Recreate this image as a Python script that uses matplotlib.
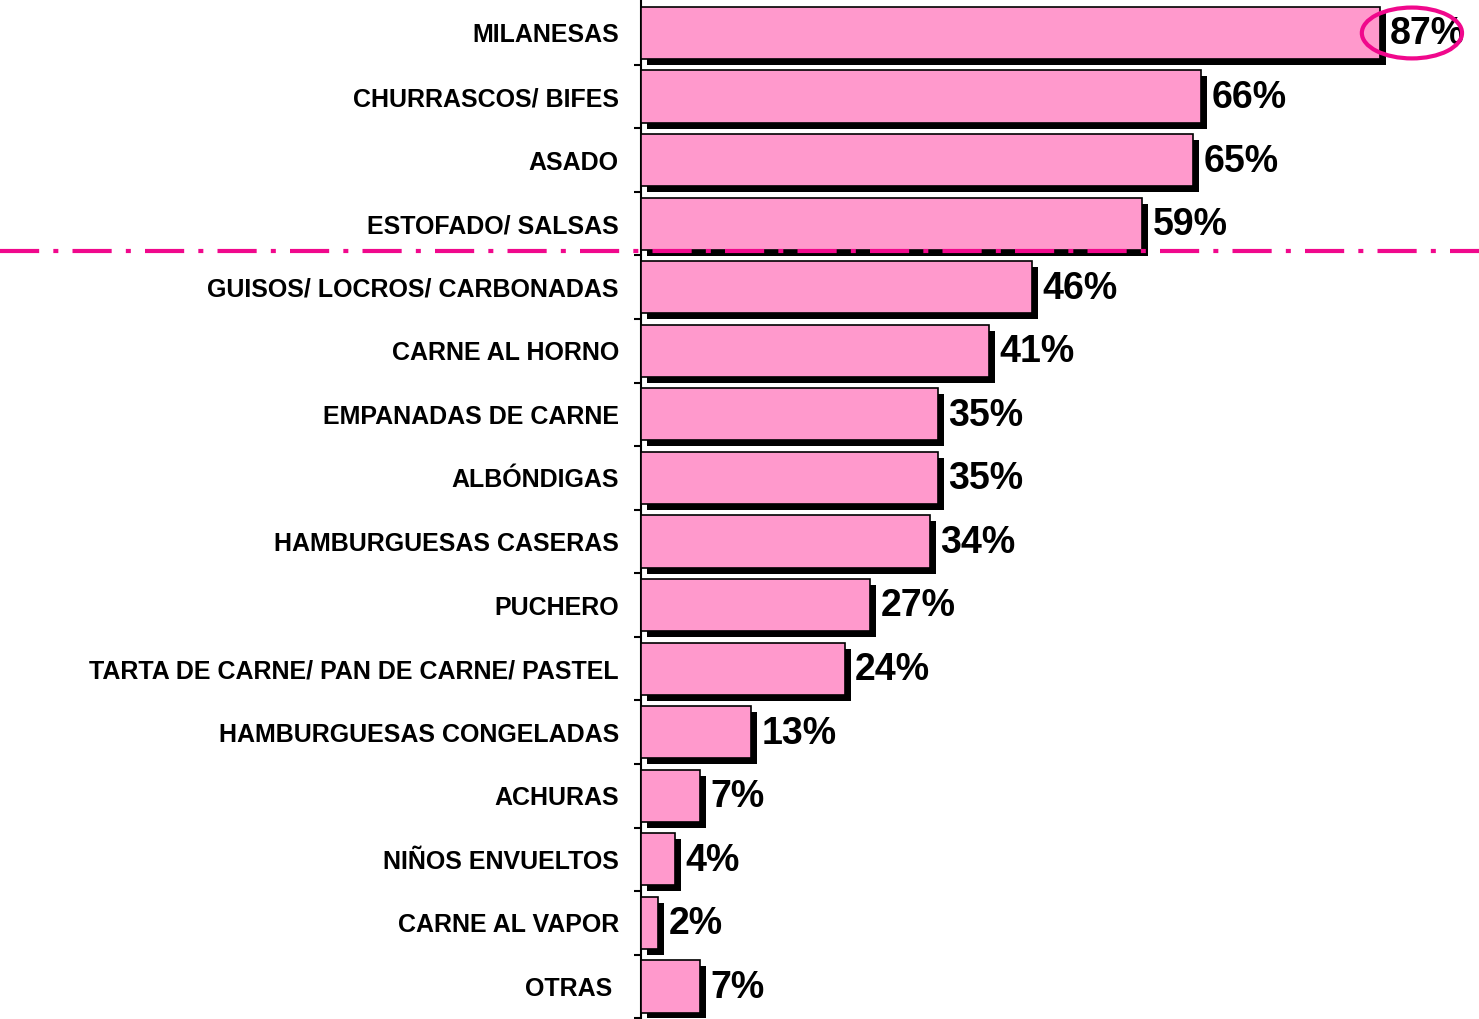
import matplotlib
matplotlib.use("Agg")
import matplotlib.pyplot as plt
import matplotlib.patheffects as pe
from matplotlib.patches import Ellipse
from matplotlib.lines import Line2D

categories = ["MILANESAS", "CHURRASCOS/ BIFES", "ASADO", "ESTOFADO/ SALSAS",
              "GUISOS/ LOCROS/ CARBONADAS", "CARNE AL HORNO", "EMPANADAS DE CARNE",
              "ALBÓNDIGAS", "HAMBURGUESAS CASERAS", "PUCHERO",
              "TARTA DE CARNE/ PAN DE CARNE/ PASTEL", "HAMBURGUESAS CONGELADAS",
              "ACHURAS", "NIÑOS ENVUELTOS", "CARNE AL VAPOR", "OTRAS "]
values = [87, 66, 65, 59, 46, 41, 35, 35, 34, 27, 24, 13, 7, 4, 2, 7]
value_labels = [f"{v}%" for v in values]
highlight_index = 0
split_after = 3

plt.rcParams['font.family'] = ['Liberation Sans', 'DejaVu Sans']

fig = plt.figure(figsize=(14.79, 10.19), dpi=100)
ax = fig.add_axes([641/1479, 0.7/1019, 1 - 641/1479, 1017.1/1019])

pos = list(range(len(categories)))
bars = ax.barh(pos, values, height=0.82, color="#FF99CC", edgecolor="black",
               linewidth=1.2, zorder=3)
for b in bars:
    b.set_path_effects([pe.SimplePatchShadow(offset=(4.3, -4.3), shadow_rgbFace="black",
                                             alpha=1.0), pe.Normal()])

ax.set_xlim(0, 98.7)
ax.set_ylim(len(categories) - 0.5, -0.5)

for y, v, lab in zip(pos, values, value_labels):
    ax.annotate(lab, xy=(v, y), xytext=(7.5, -1.0), textcoords="offset points",
                ha="left", va="center", fontsize=27, fontweight="bold", zorder=5)

# highlight ellipse around top value
hx = values[highlight_index]
ax.add_patch(Ellipse((hx + 3.8, highlight_index), width=11.8, height=0.8,
                     fill=False, edgecolor="#F0088C", linewidth=3, zorder=6,
                     clip_on=False))

# ticks
ax.set_yticks(pos)
ax.set_yticklabels(categories, fontsize=18, fontweight="bold")
ax.tick_params(axis="y", which="major", length=0, pad=16)
ax.set_yticks([p + 0.5 for p in pos[:-1]] + [len(categories) - 0.5], minor=True)
ax.tick_params(axis="y", which="minor", length=5, width=1.5, direction="out")
ax.set_xticks([])

for s in ["top", "right", "bottom"]:
    ax.spines[s].set_visible(False)
ax.spines["left"].set_linewidth(1.5)

# separator dash-dot line across the full figure
ysep = split_after + 0.5 - 0.07
disp = ax.transData.transform((0, ysep))
yfig = fig.transFigure.inverted().transform(disp)[1]
fig.add_artist(Line2D([0, 1], [yfig, yfig], transform=fig.transFigure,
                      color="#F0088C", linewidth=3,
                      linestyle=(0, (9.4, 3.4, 1.2, 3.4)), zorder=10))

fig.savefig("out.png", dpi=100)
